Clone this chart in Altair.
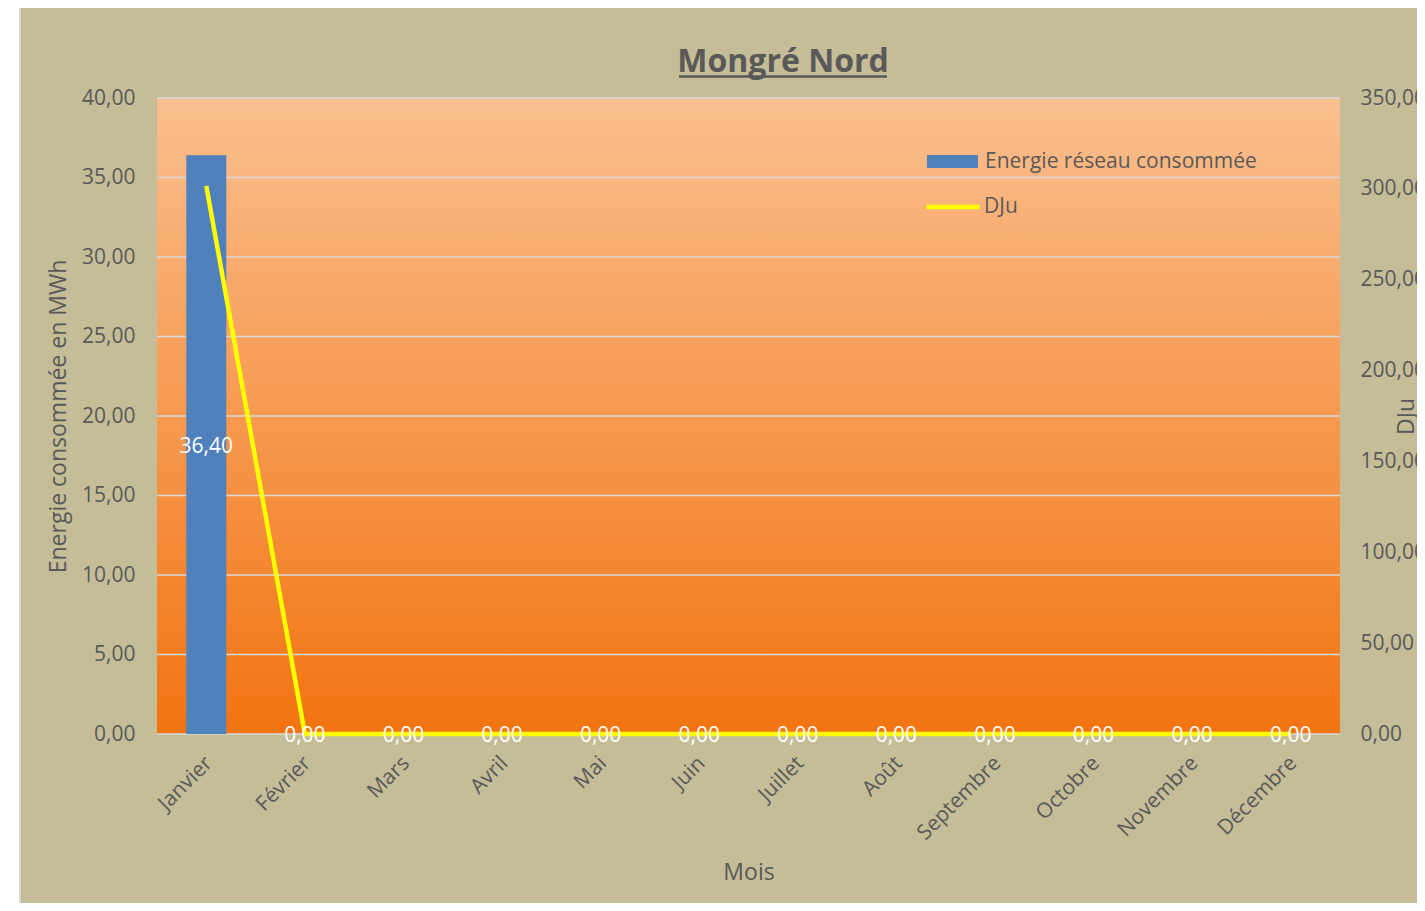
import altair as alt
import pandas as pd

# ---- data ----
MOIS = ["Janvier", "Février", "Mars", "Avril", "Mai", "Juin", "Juillet",
        "Août", "Septembre", "Octobre", "Novembre", "Décembre"]
ENERGIE = [36.40, 0, 0, 0, 0, 0, 0, 0, 0, 0, 0, 0]
DJU = [301.6, 0, 0, 0, 0, 0, 0, 0, 0, 0, 0, 0]
TICKS_ENERGIE = [0, 5, 10, 15, 20, 25, 30, 35, 40]
TICKS_DJU = [0, 50, 100, 150, 200, 250, 300, 350]
TITRE = "Mongré Nord"
SERIE_E = "Energie réseau consommée"
SERIE_D = "DJu"
TITRE_Y = "Energie consommée en MWh"
TITRE_Y2 = "DJu"
TITRE_X = "Mois"

# ---- styling ----
W, H = 1183, 636
FONT = "Open Sans"
GREY = "#595959"
KHAKI = "#C4BD97"
BLUE = "#4F81BD"
YELLOW = "#FFFF00"
GRID = "#D9D9D9"
FR = "replace(format(datum.value, '.2f'), '.', ',')"

df = pd.DataFrame({"mois": MOIS, "energie": ENERGIE, "dju": DJU})
grid_df = pd.DataFrame({"v": TICKS_ENERGIE})
one = pd.DataFrame({"t": [TITRE]})

x_scale = alt.Scale(domain=MOIS, paddingInner=0, paddingOuter=0)
x_axis = alt.Axis(title=TITRE_X, labelAngle=-45, labelAlign="right", labelBaseline="top",
                  labelPadding=18, labelOffset=-5, ticks=False, grid=False, domain=False,
                  labelOverlap=False, titleY=138, titleBaseline="middle", zindex=1)
x_enc = alt.X("mois:N", sort=MOIS, scale=x_scale, axis=x_axis)

bg = alt.Chart(one).mark_rect(fill=KHAKI, stroke=GRID, strokeWidth=2).encode(
    x=alt.value(-137), x2=alt.value(W + 400), y=alt.value(-93), y2=alt.value(H + 400))

grad = alt.Chart(one).mark_rect(
    color=alt.LinearGradient(
        gradient="linear",
        stops=[alt.GradientStop(color="#FABF8F", offset=0),
               alt.GradientStop(color="#F27411", offset=1)],
        x1=0, x2=0, y1=0, y2=1)
).encode(x=alt.value(0), x2=alt.value(W), y=alt.value(0), y2=alt.value(H))

grid = alt.Chart(grid_df).mark_rule(color=GRID, strokeWidth=1.5).encode(
    y=alt.Y("v:Q", scale=alt.Scale(domain=[0, 40], nice=False), axis=None))

bars = alt.Chart(df).transform_calculate(serie_e=f"'{SERIE_E}'").mark_bar(size=40).encode(
    x=x_enc,
    y=alt.Y("energie:Q", scale=alt.Scale(domain=[0, 40], nice=False),
            axis=alt.Axis(orient="left", values=TICKS_ENERGIE, labelExpr=FR, title=TITRE_Y,
                          grid=False, domain=False, ticks=False, labelPadding=22,
                          labelOverlap=False, titleX=-99, titleBaseline="middle", zindex=1)),
    fill=alt.Fill("serie_e:N", scale=alt.Scale(domain=[SERIE_E], range=[BLUE]),
                  legend=alt.Legend(title=None, orient="none", legendX=770, legendY=38,
                                    padding=0, symbolType="M-1,-0.255H1V0.255H-1Z",
                                    symbolSize=2601, symbolStrokeWidth=0, labelOffset=7,
                                    labelLimit=0)),
)

line = alt.Chart(df).transform_calculate(serie_d=f"'{SERIE_D}'").mark_line(strokeWidth=4.5).encode(
    x=x_enc,
    y=alt.Y("dju:Q", scale=alt.Scale(domain=[0, 350], nice=False),
            axis=alt.Axis(orient="right", values=TICKS_DJU, labelExpr=FR, title=TITRE_Y2,
                          grid=False, domain=False, ticks=False, labelPadding=20,
                          labelOverlap=False, titleX=66, titleAngle=-90,
                          titleBaseline="middle", zindex=1)),
    stroke=alt.Stroke("serie_d:N", scale=alt.Scale(domain=[SERIE_D], range=[YELLOW]),
                      legend=alt.Legend(title=None, orient="none", legendX=767, legendY=80,
                                        padding=0, symbolType="stroke", symbolSize=2809,
                                        symbolStrokeWidth=4.5, labelOffset=2, labelLimit=0)),
)

labels = alt.Chart(df).transform_calculate(
    mid="datum.energie / 2",
    lab="replace(format(datum.energie, '.2f'), '.', ',')",
).mark_text(color="white", font=FONT, fontSize=21, baseline="middle", dy=2).encode(
    x=x_enc,
    y=alt.Y("mid:Q", scale=alt.Scale(domain=[0, 40], nice=False), axis=None),
    text="lab:N",
)

title = alt.Chart(one).mark_text(font=FONT, fontSize=32, fontWeight="bold", color=GREY,
                                 align="center", baseline="alphabetic").encode(
    x=alt.value(626), y=alt.value(-26), text="t:N")

underline = alt.Chart(one).mark_rule(color=GREY, strokeWidth=2.5).encode(
    x=alt.value(522), x2=alt.value(730), y=alt.value(-21.5))

chart = alt.layer(bg, grad, grid, bars, line, labels, title, underline).resolve_scale(
    y="independent"
).properties(
    width=W, height=H,
    padding={"left": 149, "top": 90, "right": 77, "bottom": 169},
    autosize=alt.AutoSizeParams(type="none"),
    background="white",
).configure_view(stroke=None).configure_axis(
    labelFont=FONT, titleFont=FONT, labelColor=GREY, titleColor=GREY,
    labelFontSize=21, titleFontSize=23, titleFontWeight="normal", zindex=1,
).configure_legend(
    labelFont=FONT, labelFontSize=21, labelColor=GREY,
)

chart.save("out.html", embed_options={"renderer": "svg", "actions": False})
